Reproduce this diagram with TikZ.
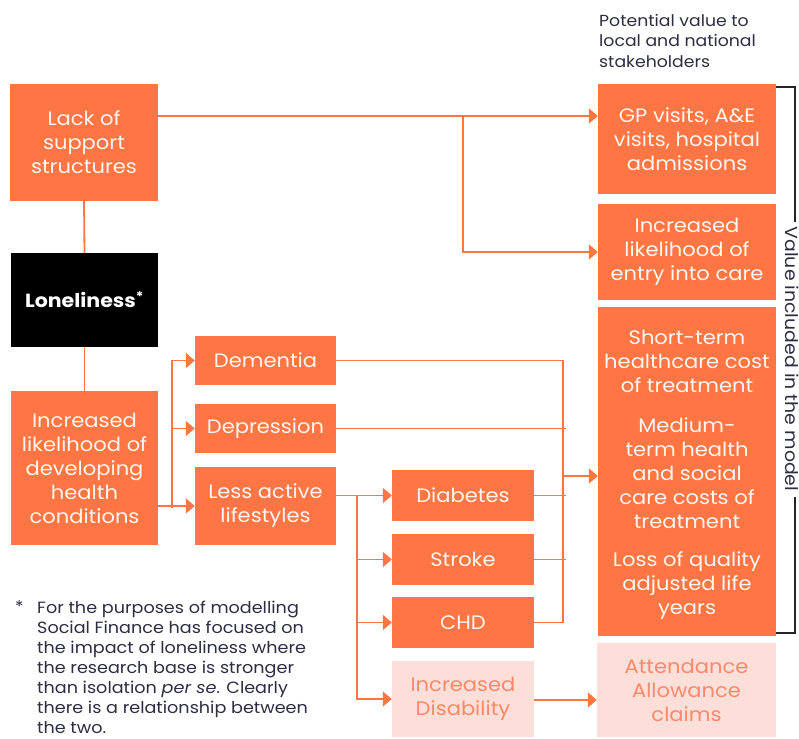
\documentclass[tikz,border=0pt]{standalone}
\usepackage{fontspec}
\setmainfont{Poppins}[FakeStretch=1.08]
\usetikzlibrary{arrows.meta}
\definecolor{orng}{RGB}{255,117,68}
\definecolor{pinkbg}{RGB}{253,222,216}
\definecolor{pinktxt}{RGB}{248,138,105}
\definecolor{boxtxt}{RGB}{255,246,240}
\definecolor{darktxt}{RGB}{45,45,65}
\tikzset{
  box/.style={rectangle, fill=orng, text=boxtxt, align=center, inner sep=0pt,
    font=\fontsize{19.5}{24}\selectfont},
  pbox/.style={box, fill=pinkbg, text=pinktxt},
  conn/.style={draw=orng, line width=1.8pt},
  arr/.style={conn, -{Triangle[length=9pt,width=15pt]}},
  brk/.style={draw=black!85, line width=1.3pt},
}
\begin{document}
\begin{tikzpicture}[x=1pt,y=-1pt]
\useasboundingbox (0,0) rectangle (799,738);
\clip (0,0) rectangle (799,738);
% left column
\node[box, minimum width=148pt, minimum height=117pt] (lack) at (84,142.5) {Lack of\\support\\structures};
\node[rectangle, fill=black, text=white, minimum width=147pt, minimum height=94pt, inner sep=0pt,
  font=\fontsize{19}{22}\selectfont\bfseries] (lone) at (84.5,300) {Loneliness\textsuperscript{*}};
\node[box, minimum width=147pt, minimum height=154pt] (inc) at (84.5,468) {Increased\\likelihood of\\developing\\health\\conditions};
% middle column
\node[box, minimum width=141pt, minimum height=49pt] (dem) at (265.5,360.5) {Dementia};
\node[box, minimum width=141pt, minimum height=49pt] (dep) at (265.5,428.5) {Depression};
\node[box, minimum width=141pt, minimum height=78pt] (less) at (265.5,506) {Less active\\lifestyles};
\node[box, minimum width=142pt, minimum height=51pt] (dia) at (463,495.5) {Diabetes};
\node[box, minimum width=142pt, minimum height=51pt] (str) at (463,559.5) {Stroke};
\node[box, minimum width=142pt, minimum height=51pt] (chd) at (463,622.5) {CHD};
\node[pbox, minimum width=142pt, minimum height=76pt] (dis) at (463,699) {Increased\\Disability};
% right column
\node[box, minimum width=178pt, minimum height=110pt] (gp) at (687,139) {GP visits, A\&E\\visits, hospital\\admissions};
\node[box, minimum width=178pt, minimum height=96pt] (entry) at (687,252) {Increased\\likelihood of\\entry into care};
\node[box, minimum width=178pt, minimum height=329pt] (big) at (687,471.5) {};
\node[box] (bigA) at (687,361) {Short-term\\healthcare cost\\of treatment};
\node[box] (bigB) at (687,473.5) {Medium-\\term health\\and social\\care costs of\\treatment};
\node[box] (bigC) at (687,586) {Loss of quality\\adjusted life\\years};
\node[pbox, minimum width=179pt, minimum height=94pt] (att) at (686.5,690) {Attendance\\Allowance\\claims};
% header and footnote
\node[anchor=north west, align=left, inner sep=0pt, text=darktxt,
  font=\fontsize{16}{20.5}\selectfont] (head) at (599,14) {Potential value to\\local and national\\stakeholders};
\node[anchor=north west, inner sep=0pt, text=darktxt, font=\fontsize{16}{17.5}\selectfont] (star) at (15,601) {*};
\node[anchor=north west, align=left, inner sep=0pt, text=darktxt,
  font=\fontsize{16.3}{20}\selectfont] (foot) at (37,601) {For the purposes of modelling\\Social Finance has focused on\\the impact of loneliness where\\the research base is stronger\\than isolation \textit{per se}. Clearly\\there is a relationship between\\the two.};
% bracket
\coordinate (b1) at (795,87);
\coordinate (b2) at (795,222);
\coordinate (b3) at (795,497);
\coordinate (b4) at (795,633);
\draw[brk] (gp.north east|-b1) -- (b1) -- (b2);
\draw[brk] (b3) -- (b4) -- (big.east|-b4);
\node[rotate=-90, inner sep=0pt, text=darktxt, font=\fontsize{17.5}{18}\selectfont] (val) at (792,359) {Value included in the model};
% connectors top
\coordinate (j1) at (463,116);
\draw[arr] (lack.east|-j1) -- (gp.west|-j1);
\draw[arr] (j1) |- (entry.west);
\draw[conn] (lack.south) -- (lone.north);
\draw[conn] (lone.south) -- (inc.north);
% inc bus
\coordinate (k1) at (172,508);
\draw[arr] (inc.east|-less.west) -- (less.west);
\draw[arr] (k1) |- (dem.west);
\draw[arr] (k1|-dep.west) -- (dep.west);
% less bus
\coordinate (m1) at (357,495.5);
\draw[arr] (less.east|-dia.west) -- (dia.west);
\draw[arr] (m1) |- (str.west);
\draw[arr] (m1) |- (chd.west);
\draw[arr] (m1) |- (dis.west);
% right bus
\coordinate (r1) at (563,360.5);
\coordinate (r2) at (563,622.5);
\coordinate (ra) at (563,476);
\draw[conn] (dem.east) -- (r1) -- (r2) -- (chd.east);
\draw[conn] (dep.east) -- ([xshift=3pt]r1|-dep.east);
\draw[conn] (dia.east) -- ([xshift=3pt]r1|-dia.east);
\draw[conn] (str.east) -- ([xshift=3pt]r1|-str.east);
\draw[arr] (ra) -- (big.west|-ra);
\coordinate (d1) at (534,700);
\draw[arr] (dis.east|-d1) -- (att.west|-d1);
\end{tikzpicture}
\end{document}
